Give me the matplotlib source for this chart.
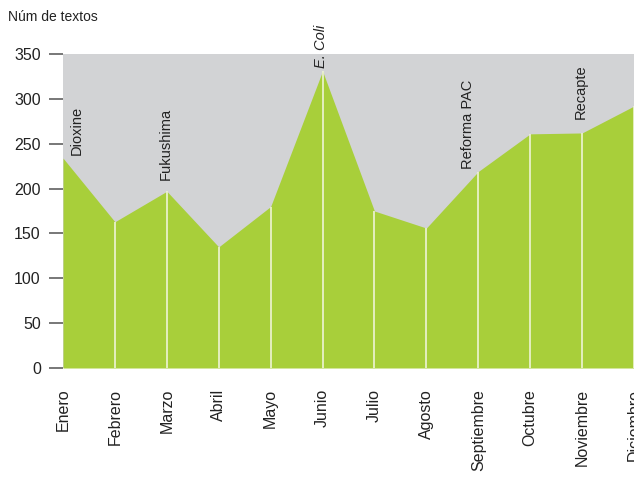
import matplotlib.pyplot as plt

plt.rcParams['font.family'] = ['Liberation Sans', 'DejaVu Sans']

# Data
meses = ['Enero', 'Febrero', 'Marzo', 'Abril', 'Mayo', 'Junio', 'Julio',
         'Agosto', 'Septiembre', 'Octubre', 'Noviembre', 'Diciembre']
textos = [234, 163, 197, 135, 180, 331, 175, 156, 219, 261, 262, 292]

# Events marked on the chart (month index, label)
eventos_mes = [0, 2, 5, 8, 10]
eventos_txt = ['Dioxine', 'Fukushima', 'E. Coli', 'Reforma PAC', 'Recapte']

verde = '#a8cf3a'
gris = '#d2d3d5'

fig = plt.figure(figsize=(6.34, 4.78), dpi=100)
ax = fig.add_axes([63 / 634, 110 / 478, 1 - 63 / 634, 314 / 478])
ax.set_facecolor(gris)

x = list(range(len(meses)))
ax.fill_between(x, 0, textos, color=verde, linewidth=0)
ax.vlines(x[1:], 0, textos[1:], color='#eef4d6', linewidth=1.2)

ax.set_xlim(0, 11)
ax.set_ylim(0, 350)
ax.set_yticks(range(0, 351, 50))
ax.set_xticks(x)
ax.set_xticklabels(meses, rotation=90, fontsize=11.5, color='#222222')
ax.tick_params(axis='x', length=0, pad=15)
ax.tick_params(axis='y', length=10, width=1.4, color='#777777',
               labelsize=11.5, labelcolor='#222222', pad=6)
for s in ax.spines.values():
    s.set_visible(False)

# annotations (label placement tweaks per month)
dx = {0: 0.27, 8: -0.19}
dy = {2: 12, 10: 16}
for m, t in zip(eventos_mes, eventos_txt):
    style = 'italic' if t == 'E. Coli' else 'normal'
    ax.text(m + dx.get(m, -0.03), textos[m] + dy.get(m, 3), t, rotation=90,
            ha='center', va='bottom', fontsize=10.5, style=style,
            color='#222222', clip_on=False)

fig.text(8 / 634, 1 - 17 / 478, 'Núm de textos', fontsize=10,
         color='#222222', va='center', ha='left')

fig.savefig('out.png', dpi=100)
